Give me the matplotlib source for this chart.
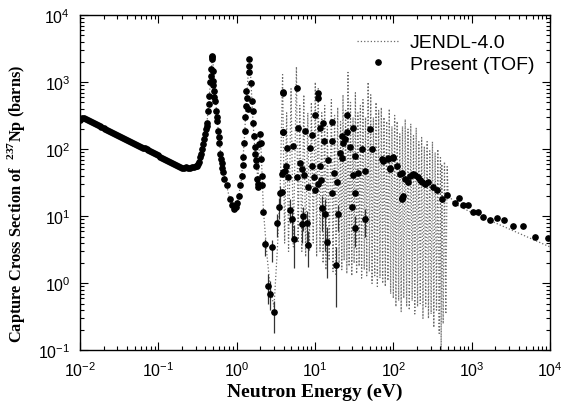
import numpy as np
import matplotlib.pyplot as plt
from matplotlib.ticker import LogLocator, FuncFormatter, NullFormatter

plt.rcParams['font.family'] = 'Liberation Sans'
plt.rcParams['mathtext.fontset'] = 'custom'
plt.rcParams['mathtext.rm'] = 'Liberation Sans'
plt.rcParams['mathtext.bf'] = 'Liberation Serif:bold'

# JENDL-4.0 evaluated capture cross section
jendl_low_e = [0.01, 0.02, 0.05, 0.1, 0.2, 0.25, 0.3, 0.36, 0.42, 0.46,
               0.49, 0.52, 0.56, 0.62, 0.7, 0.8, 0.92, 1.02, 1.15, 1.25,
               1.33, 1.42, 1.47, 1.53, 1.62, 1.75, 1.88, 1.97, 2.06, 2.2,
               2.45, 2.7, 3.0, 3.3, 3.6]
jendl_low_xs = [285, 205, 116, 80, 52, 53, 57, 95, 260, 900,
                2500, 1100, 300, 95, 40, 20, 13, 15, 35, 130,
                500, 1600, 2300, 900, 250, 70, 35, 175, 90, 12,
                2.5, 0.8, 0.45, 3, 25]

# resolved resonance region: alternating peak / valley
jendl_res_e = [3.86, 4.1, 4.35, 4.6, 4.95, 5.3, 5.8, 6.1, 6.4, 6.8,
               7.2, 7.6, 8.1, 8.5, 9.0, 9.5, 10.1, 10.5, 11.0, 11.6,
               12.2, 12.7, 13.3, 13.8, 14.4, 15.2, 16.2, 17.0, 17.8, 18.6,
               19.5, 20.3, 21.2, 22.0, 22.8, 23.6, 24.6, 25.5, 26.4, 27.3,
               28.4, 29.5, 30.6, 31.6, 32.8, 34.0, 35.3, 36.6, 38.0, 39.4,
               41.0, 42.6, 44.2, 45.8, 47.7, 49.5, 51.5, 53.5, 55.7, 57.9,
               60.2, 62.6, 65.0, 67.6, 70.3, 73.1, 76.0, 79.0, 82.2, 85.4,
               88.8, 92.4, 96.0, 100, 104, 108, 112, 117, 121, 126,
               131, 136, 142, 148, 154, 160, 167, 174, 181, 188,
               196, 204, 212, 221, 230, 239, 249, 259, 270, 281,
               292, 304, 316, 329, 342, 356, 370, 385, 400, 408,
               416, 433, 450, 468, 487]
jendl_res_xs = [1300, 4, 350, 3, 800, 3.5, 1700, 4, 450, 3,
                650, 2.5, 350, 3, 500, 4, 1000, 2.5, 800, 3,
                350, 2, 450, 1.6, 220, 2.2, 550, 1.5, 320, 1.3,
                420, 2, 260, 1.6, 650, 2.2, 380, 1.4, 1400, 1.8,
                500, 1.3, 300, 2, 700, 1.4, 350, 1.8, 450, 1.2,
                550, 1.6, 300, 1.3, 1000, 1.5, 650, 1.0, 300, 1.3,
                500, 0.9, 380, 1.2, 420, 1.0, 300, 0.9, 260, 1.1,
                400, 0.7, 220, 0.6, 320, 0.45, 260, 0.55, 170, 0.38,
                220, 0.6, 280, 0.45, 200, 0.4, 240, 0.55, 160, 0.35,
                210, 0.45, 130, 0.5, 150, 0.3, 110, 0.45, 130, 0.3,
                95, 0.35, 130, 0.22, 90, 0.4, 100, 0.18, 75, 0.1,
                60, 0.25, 65, 0.35, 55]

jendl_high_e = [500, 600, 800, 1000, 1500, 2000, 3000, 5000, 7000, 10000]
jendl_high_xs = [22, 15.5, 13, 11.4, 9.3, 8.0, 6.5, 5.0, 4.2, 3.5]

# present TOF measurement, thermal region
tof_th_e = [0.0100, 0.0106, 0.0112, 0.0119, 0.0126, 0.0133, 0.0141, 0.0150, 0.0158, 0.0168,
            0.0178, 0.0188, 0.0200, 0.0211, 0.0224, 0.0237, 0.0251, 0.0266, 0.0282, 0.0299,
            0.0316, 0.0335, 0.0355, 0.0376, 0.0398, 0.0422, 0.0447, 0.0473, 0.0501, 0.0531,
            0.0562, 0.0596, 0.0631, 0.0668, 0.0708, 0.0750, 0.0794, 0.0841, 0.0891, 0.0944,
            0.100, 0.106, 0.112, 0.119, 0.126, 0.133, 0.141, 0.150, 0.158, 0.168,
            0.178, 0.188, 0.200, 0.211, 0.224, 0.237, 0.251, 0.266, 0.282, 0.299]
tof_th_xs = [275, 288, 290, 281, 270, 263, 256, 248, 240, 232,
             225, 217, 209, 202, 195, 188, 182, 176, 170, 164,
             158, 153, 148, 143, 138, 134, 129, 125, 121, 117,
             113, 110, 106, 103, 100, 96, 93, 90, 87, 84,
             81, 78, 75, 72, 70, 67, 65, 62, 60, 58,
             56, 54, 53, 52, 55, 53, 52, 54, 55, 56]

# resonances below 4 eV
tof_res_e = [0.31, 0.32, 0.33, 0.34, 0.35, 0.358, 0.37, 0.384, 0.395, 0.41,
             0.415, 0.42, 0.43, 0.44, 0.45, 0.457, 0.465, 0.47, 0.48, 0.485,
             0.49, 0.495, 0.50, 0.505, 0.51, 0.52, 0.53, 0.545, 0.557, 0.566,
             0.58, 0.59, 0.60, 0.61, 0.625, 0.645, 0.66, 0.676, 0.70, 0.75,
             0.82, 0.88, 0.93, 0.97, 1.02, 1.06, 1.10, 1.16, 1.19, 1.22,
             1.25, 1.28, 1.28, 1.32, 1.32, 1.37, 1.41, 1.45, 1.45, 1.45,
             1.51, 1.56, 1.60, 1.63, 1.66, 1.70, 1.72, 1.76, 1.78, 1.80,
             1.85, 1.89, 1.95, 1.99, 2.02, 2.05, 2.09, 2.12, 2.19, 3.77,
             3.88, 3.92, 3.92]
tof_res_xs = [56, 60, 65, 76, 85, 100, 118, 141, 170, 200,
              225, 250, 372, 480, 630, 1000, 1250, 1600, 2190, 2500,
              2350, 1480, 1050, 900, 740, 600, 525, 372, 300, 265,
              190, 150, 126, 85, 72, 63, 52, 46, 36, 29,
              18, 15, 13, 14, 16, 20, 29, 40, 58, 76,
              126, 190, 300, 445, 740, 590, 400, 1400, 1740, 2190,
              990, 525, 372, 250, 160, 110, 85, 70, 56, 36,
              30, 27, 120, 170, 126, 71, 40, 29, 11.5, 23,
              46, 178, 710]

# 4 - 130 eV cloud
tof_mid_e = [3.95, 5.86, 10.9, 11.0, 10.0, 3.95, 6.14, 7.48, 9.10, 11.6,
             12.8, 16.4, 13.1, 16.4, 25.5, 25.5, 23.1, 30.9, 50.6, 20.9,
             22.0, 39.6, 53.1, 32.5, 35.8, 43.7, 30.9, 71.3, 86.5, 100,
             91.0, 128, 128, 32.5, 29.5, 19.0, 16.4, 11.0, 3.77, 4.57,
             5.86, 4.36, 5.30, 6.45, 8.66, 9.10, 11.6, 22.0, 24.2, 28.1,
             8.24, 10.0, 4.1, 4.3, 6.8, 7.2, 9.6, 12.0, 14.5, 17.5]
tof_mid_xs = [700, 830, 700, 590, 330, 180, 210, 187, 162, 210,
              250, 257, 135, 132, 330, 178, 126, 210, 200, 89,
              74, 100, 100, 79, 45, 47, 42, 71, 75, 75,
              53, 45, 19, 22, 14, 32, 22, 30, 43, 38,
              38, 105, 112, 63, 105, 56, 56, 159, 141, 107,
              27, 25, 48, 56, 50, 42, 38, 35, 70, 45]

# above ~70 eV
tof_high_e = [74, 86, 99, 91, 112, 122, 130, 133, 142, 155,
              165, 179, 190, 207, 220, 233, 255, 278, 322, 362,
              420, 487, 615, 692, 778, 902, 1045, 1210, 1400, 1720,
              2120, 2600, 3390, 4550, 6470, 9480]
tof_high_xs = [66, 71, 76, 50, 56, 43, 18, 20, 36, 33,
               40, 43, 41, 38, 35, 33, 30, 32, 27, 25,
               18, 21, 16, 18.6, 15, 15, 11.8, 11.8, 9.8, 8.7,
               9.3, 8.7, 7.1, 7.1, 5.0, 4.7]

# points with visible error bars (value, lower, upper)
bar_e = [2.30, 2.80, 2.54, 2.67, 3.03, 3.25, 3.47, 5.46, 8.24, 14.1,
         18.5, 32.5, 19.9, 7.86, 6.78, 7.11, 13.5, 12.2, 5.05, 4.81,
         43.7, 3.58]
bar_xs = [3.9, 3.5, 0.92, 0.69, 0.37, 8, 14, 4.6, 3.8, 4.2,
          1.9, 6.8, 10.7, 8, 7.6, 10, 10.7, 13.5, 9, 12.6,
          9, 22]
bar_lo = [2.6, 2.1, 0.50, 0.40, 0.18, 5, 9, 1.7, 1.75, 1.2,
          0.45, 3.5, 6, 4, 4, 6, 3, 6, 5, 8,
          5, 15]
bar_hi = [4.6, 4.5, 1.4, 1.1, 0.55, 11, 19, 7.5, 6, 7,
          3.5, 10, 15, 12, 11, 14, 18, 20, 13, 18,
          13, 28]

x_major = [1e-2, 1e-1, 1e0, 1e1, 1e2, 1e3, 1e4]
y_major = [1e-1, 1e0, 1e1, 1e2, 1e3, 1e4]

fig = plt.figure(figsize=(5.67, 4.14), dpi=100)
ax = fig.add_axes([0.141, 0.151, 0.829, 0.810])

jendl_e = jendl_low_e + jendl_res_e + jendl_high_e
jendl_xs = jendl_low_xs + jendl_res_xs + jendl_high_xs
ax.plot(jendl_e, jendl_xs, ls=':', color='#6a6a6a', lw=0.9, zorder=1,
        label='JENDL-4.0')

tof_e = tof_th_e + tof_res_e + tof_mid_e + tof_high_e
tof_xs = tof_th_xs + tof_res_xs + tof_mid_xs + tof_high_xs

bar_xs_a = np.array(bar_xs)
yerr = [bar_xs_a - np.array(bar_lo), np.array(bar_hi) - bar_xs_a]
ax.errorbar(bar_e, bar_xs, yerr=yerr, fmt='o', color='black', ms=3.8,
            ecolor='#333333', elinewidth=0.9, capsize=0, zorder=3)
ax.plot(tof_e, tof_xs, 'o', color='black', ms=3.8, ls='none', zorder=4,
        label='Present (TOF)')

ax.set_xscale('log')
ax.set_yscale('log')
ax.set_xlim(1e-2, 1e4)
ax.set_ylim(1e-1, 1e4)

fmt = FuncFormatter(lambda v, p: r'$\mathregular{10^{%d}}$' % round(np.log10(v)))
ax.set_xticks(x_major)
ax.set_yticks(y_major)
for axis in (ax.xaxis, ax.yaxis):
    axis.set_minor_locator(LogLocator(base=10, subs=np.arange(2, 10), numticks=20))
    axis.set_major_formatter(fmt)
    axis.set_minor_formatter(NullFormatter())
ax.set_xlim(1e-2, 1e4)
ax.set_ylim(1e-1, 1e4)

ax.tick_params(which='both', direction='in', top=True, right=True, width=0.8,
               labelsize=11.5)
ax.tick_params(which='major', length=6, pad=7)
ax.tick_params(which='minor', length=3)
for s in ax.spines.values():
    s.set_linewidth(1.0)

ax.set_xlabel('Neutron Energy (eV)', family='Liberation Serif',
              weight='bold', fontsize=14, labelpad=3)
ax.set_ylabel(r'Capture Cross Section of  $^{\mathbf{237}}$Np (barns)',
              family='Liberation Serif', weight='bold', fontsize=11.8)
ax.yaxis.set_label_coords(-0.112, 0.44)

ax.legend(loc='upper right', bbox_to_anchor=(0.995, 0.985), frameon=False,
          fontsize=14, handlelength=2.2, handletextpad=0.5,
          labelspacing=0.2, borderaxespad=0.3)

fig.savefig('out.png', dpi=100)
